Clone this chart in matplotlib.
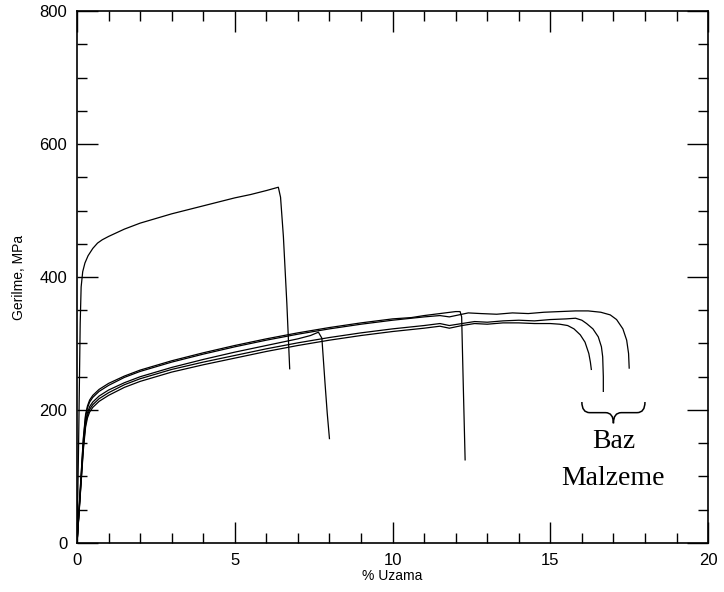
import matplotlib.pyplot as plt
from matplotlib.path import Path
from matplotlib.patches import PathPatch
from matplotlib.ticker import MultipleLocator

plt.rcParams["font.family"] = ["Liberation Sans", "DejaVu Sans"]

# high strength sample
a_x = [0, 0.05, 0.10, 0.13, 0.18, 0.25, 0.35, 0.5, 0.65, 0.8, 1.0, 1.5, 2.0,
       2.5, 3.0, 3.5, 4.0, 4.5, 5.0, 5.5, 6.0, 6.38, 6.45, 6.54, 6.65, 6.74]
a_y = [0, 150, 330, 385, 408, 421, 432, 443, 451, 456, 461, 472, 481,
       488, 495, 501, 507, 513, 519, 524, 530, 535, 520, 461, 360, 262]

# base material samples
b1_x = [0, 0.1, 0.2, 0.27, 0.33, 0.4, 0.5, 0.7, 1.0, 1.5, 2.0, 3.0, 4.0, 5.0,
        6.0, 7.0, 7.4, 7.65, 7.76, 7.86, 7.93, 8.0]
b1_y = [0, 74, 148, 182, 196, 205, 212, 221, 230, 241, 250, 264, 276, 287,
        297, 307, 312, 317, 308, 240, 195, 157]

b2_x = [0, 0.1, 0.2, 0.27, 0.33, 0.4, 0.5, 0.7, 1.0, 1.5, 2.0, 3.0, 4.0, 5.0,
        6.0, 7.0, 8.0, 9.0, 10.0, 10.6, 11.0, 11.5, 12.0, 12.14, 12.19, 12.24, 12.3]
b2_y = [0, 80, 158, 193, 206, 215, 222, 231, 240, 251, 260, 274, 286, 297,
        307, 316, 324, 331, 337, 339, 342, 345, 348, 348, 340, 240, 125]

b3_x = [0, 0.1, 0.2, 0.27, 0.33, 0.4, 0.5, 0.7, 1.0, 1.5, 2.0, 3.0, 4.0, 5.0,
        6.0, 7.0, 8.0, 9.0, 10.0, 11.0, 11.5, 11.8, 12.2, 12.6, 13.0, 13.5,
        14.0, 14.5, 15.0, 15.3, 15.55, 15.75, 15.95, 16.1, 16.22, 16.27, 16.3]
b3_y = [0, 70, 140, 174, 188, 197, 204, 213, 222, 234, 243, 257, 268, 278,
        288, 297, 305, 312, 318, 323, 326, 323, 327, 330, 329, 331,
        331, 330, 330, 329, 327, 322, 313, 302, 285, 272, 261]

b4_x = [0, 0.1, 0.2, 0.27, 0.33, 0.4, 0.5, 0.7, 1.0, 1.5, 2.0, 3.0, 4.0, 5.0,
        6.0, 7.0, 8.0, 9.0, 10.0, 11.0, 11.5, 11.8, 12.2, 12.6, 13.0, 13.5,
        14.0, 14.5, 15.0, 15.5, 15.8, 16.0, 16.15, 16.35, 16.52, 16.62, 16.66,
        16.68, 16.68]
b4_y = [0, 72, 144, 178, 192, 201, 208, 217, 226, 238, 247, 261, 272, 282,
        292, 301, 309, 316, 322, 327, 330, 327, 330, 333, 332, 334,
        335, 334, 336, 337, 338, 335, 330, 322, 310, 295, 280,
        250, 228]

b5_x = [0, 0.1, 0.2, 0.27, 0.33, 0.4, 0.5, 0.7, 1.0, 1.5, 2.0, 3.0, 4.0, 5.0,
        6.0, 7.0, 8.0, 9.0, 10.0, 11.0, 11.5, 11.8, 12.1, 12.4, 12.8, 13.3,
        13.8, 14.3, 14.8, 15.3, 15.8, 16.2, 16.6, 16.9, 17.1, 17.3, 17.42,
        17.48, 17.5]
b5_y = [0, 78, 155, 190, 203, 212, 219, 228, 237, 249, 258, 272, 284, 295,
        305, 314, 322, 329, 335, 340, 342, 340, 343, 346, 345, 344,
        346, 345, 347, 348, 349, 349, 347, 343, 336, 322, 305,
        285, 263]

curves = [(a_x, a_y), (b1_x, b1_y), (b2_x, b2_y), (b3_x, b3_y),
          (b4_x, b4_y), (b5_x, b5_y)]

fig = plt.figure(figsize=(7.24, 5.92), dpi=100)
ax = fig.add_axes([0.1064, 0.0828, 0.8716, 0.8986])

for xs, ys in curves:
    ax.plot(xs, ys, color="black", lw=0.9)

ax.set_xlim(0, 20)
ax.set_ylim(0, 800)
ax.xaxis.set_major_locator(MultipleLocator(5))
ax.xaxis.set_minor_locator(MultipleLocator(1))
ax.yaxis.set_major_locator(MultipleLocator(200))
ax.yaxis.set_minor_locator(MultipleLocator(50))
ax.tick_params(which="both", direction="in", top=True, right=True,
               labelsize=12, width=1.0, colors="black")
ax.tick_params(which="major", length=15)
ax.tick_params(which="minor", length=7)
ax.tick_params(axis="y", which="major", pad=7)
ax.tick_params(axis="x", which="major", pad=7)
for s in ax.spines.values():
    s.set_linewidth(1.2)

ax.set_xlabel("% Uzama", fontsize=10, labelpad=1)
ax.set_ylabel("Gerilme, MPa", fontsize=10, labelpad=10)

# brace under the base material ends
bx0, bx1, bxc = 16.0, 18.0, 17.0
by_top, by_mid, by_tip = 212, 196, 180
path = Path([(bx0, by_top), (bx0, by_mid), (bx0 + 0.25, by_mid),
             (bxc - 0.25, by_mid), (bxc, by_mid), (bxc, by_tip),
             (bxc, by_mid), (bxc + 0.25, by_mid),
             (bx1 - 0.25, by_mid), (bx1, by_mid), (bx1, by_top)],
            [Path.MOVETO, Path.CURVE3, Path.CURVE3,
             Path.LINETO, Path.CURVE3, Path.CURVE3,
             Path.CURVE3, Path.CURVE3,
             Path.LINETO, Path.CURVE3, Path.CURVE3])
ax.add_patch(PathPatch(path, fill=False, lw=1.1, color="black"))

ax.text(bxc, 153, "Baz", ha="center", va="center", fontsize=20,
        family="Liberation Serif")
ax.text(bxc, 97, "Malzeme", ha="center", va="center", fontsize=20,
        family="Liberation Serif")

fig.savefig("out.png", dpi=100)
